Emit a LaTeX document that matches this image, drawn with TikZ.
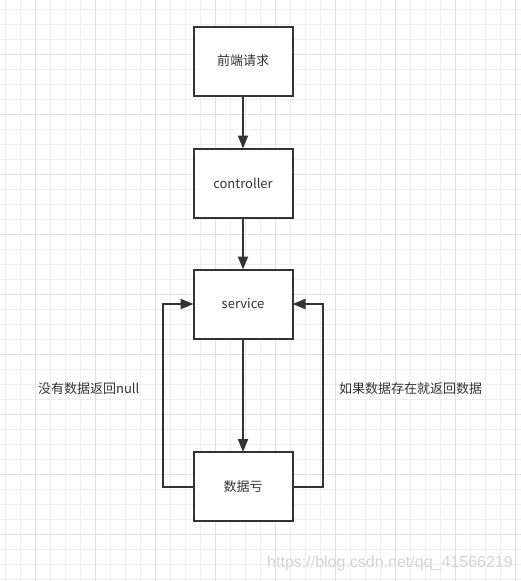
\documentclass[tikz,border=0pt]{standalone}
\usepackage{fontspec}
\setmainfont{Noto Sans CJK SC}
\newfontfamily\wmfont{Liberation Sans}
\usetikzlibrary{arrows.meta}
\definecolor{ink}{HTML}{333333}
\definecolor{gridminor}{HTML}{EEEEEE}
\definecolor{gridmajor}{HTML}{E0E0E0}
\definecolor{wmcol}{HTML}{D4D4D4}
\tikzset{
  stepbox/.style={draw=ink, line width=2pt, fill=white, minimum width=99pt, minimum height=69pt, inner sep=0pt, outer sep=0pt, text=ink, font=\fontsize{13}{15}\selectfont},
  conn/.style={draw=ink, line width=2pt, -{Triangle[length=13pt,width=10pt]}},
  lbl/.style={text=ink, font=\fontsize{13}{15}\selectfont, inner sep=0pt},
  gminor/.style={draw=gridminor, line width=1pt},
  gmajor/.style={draw=gridmajor, line width=1pt},
}
\begin{document}
\begin{tikzpicture}[x=1pt,y=-1pt]
\useasboundingbox (0,0) rectangle (521,581);
\fill[white] (0,0) rectangle (521,581);
\foreach \k in {0,...,34} { \draw[gminor] ({5.3+15*\k},0) -- ({5.3+15*\k},581); }
\foreach \k in {0,...,38} { \draw[gminor] (0,{9.3+15*\k}) -- (521,{9.3+15*\k}); }
\foreach \k in {0,...,8} { \draw[gmajor] ({35.3+60*\k},0) -- ({35.3+60*\k},581); }
\foreach \k in {0,...,8} { \draw[gmajor] (0,{54.3+60*\k}) -- (521,{54.3+60*\k}); }

\node[stepbox] (req) at (243,61) {前端请求};
\node[stepbox] (ctl) at (243,183) {controller};
\node[stepbox] (svc) at (243,304) {service};
\node[stepbox] (db) at (243,486.5) {数据亏};

\draw[conn] (req) -- (ctl);
\draw[conn] (ctl) -- (svc);
\draw[conn] (svc) -- (db);
\draw[conn] (db.west) -- ++(-30.5,0) |- (svc.west);
\draw[conn] (db.east) -- ++(30,0) |- (svc.east);

\node[lbl] (lnull) at (88.7,389) {没有数据返回null};
\node[lbl] (lret) at (410.7,389) {如果数据存在就返回数据};

\node[text=wmcol, font=\wmfont\fontsize{16}{18}\selectfont, inner sep=0pt] (wm) at (390,563) {https://blog.csdn.net/qq\_41566219};
\end{tikzpicture}
\end{document}
